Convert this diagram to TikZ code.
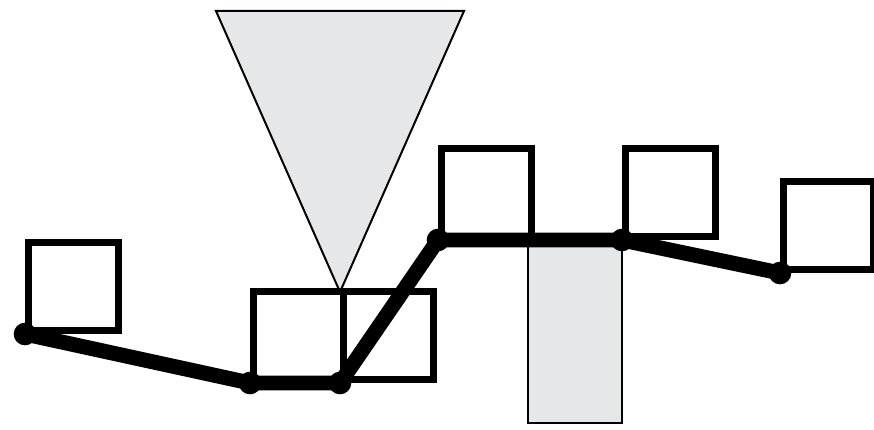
\documentclass[tikz,border=0pt]{standalone}
\usepackage{tikz}
\usetikzlibrary{positioning}

\definecolor{lightgray}{HTML}{E6E7E8}

\tikzset{
    box/.style={draw=black, line width=5.6pt, fill=white, minimum width=2.7cm, minimum height=2.65cm, inner sep=0pt, anchor=south west},
    joint/.style={circle, fill=black, minimum size=0.68cm, inner sep=0pt},
    chain/.style={line width=12.8pt, line join=round, line cap=round}
}

\begin{document}
\begin{tikzpicture}[x=0.03cm, y=-0.03cm]
    \useasboundingbox (0,0) rectangle (874,430);

    % Joints of the chain
    \coordinate (p1) at (25,334);
    \coordinate (p2) at (250,383);
    \coordinate (p3) at (340,383);
    \coordinate (p4) at (438,240);
    \coordinate (p5) at (622,240);
    \coordinate (p6) at (780,273);

    % Cone above the pair of boxes
    \draw[fill=lightgray, line width=1.7pt, line join=miter] (216,11) -- (464,11) -- (340,292) -- cycle;

    % Gap below the upper boxes
    \draw[fill=lightgray, line width=1.7pt] (528,240) rectangle (622,423);

    % Boxes
    \node[box] (boxA) at (p1) {};
    \node[box] (boxB) at (p2) {};
    \node[box] (boxC) at (p3) {};
    \node[box] (boxD) at (p4) {};
    \node[box] (boxE) at (p5) {};
    \node[box] (boxF) at (p6) {};

    % Chain
    \draw[chain] (p1) -- (p2) -- (p3) -- (p4) -- (p5) -- (p6);
    \foreach \p in {p1,p2,p3,p4,p5,p6}
        \node[joint] (j\p) at (\p) {};
\end{tikzpicture}
\end{document}
